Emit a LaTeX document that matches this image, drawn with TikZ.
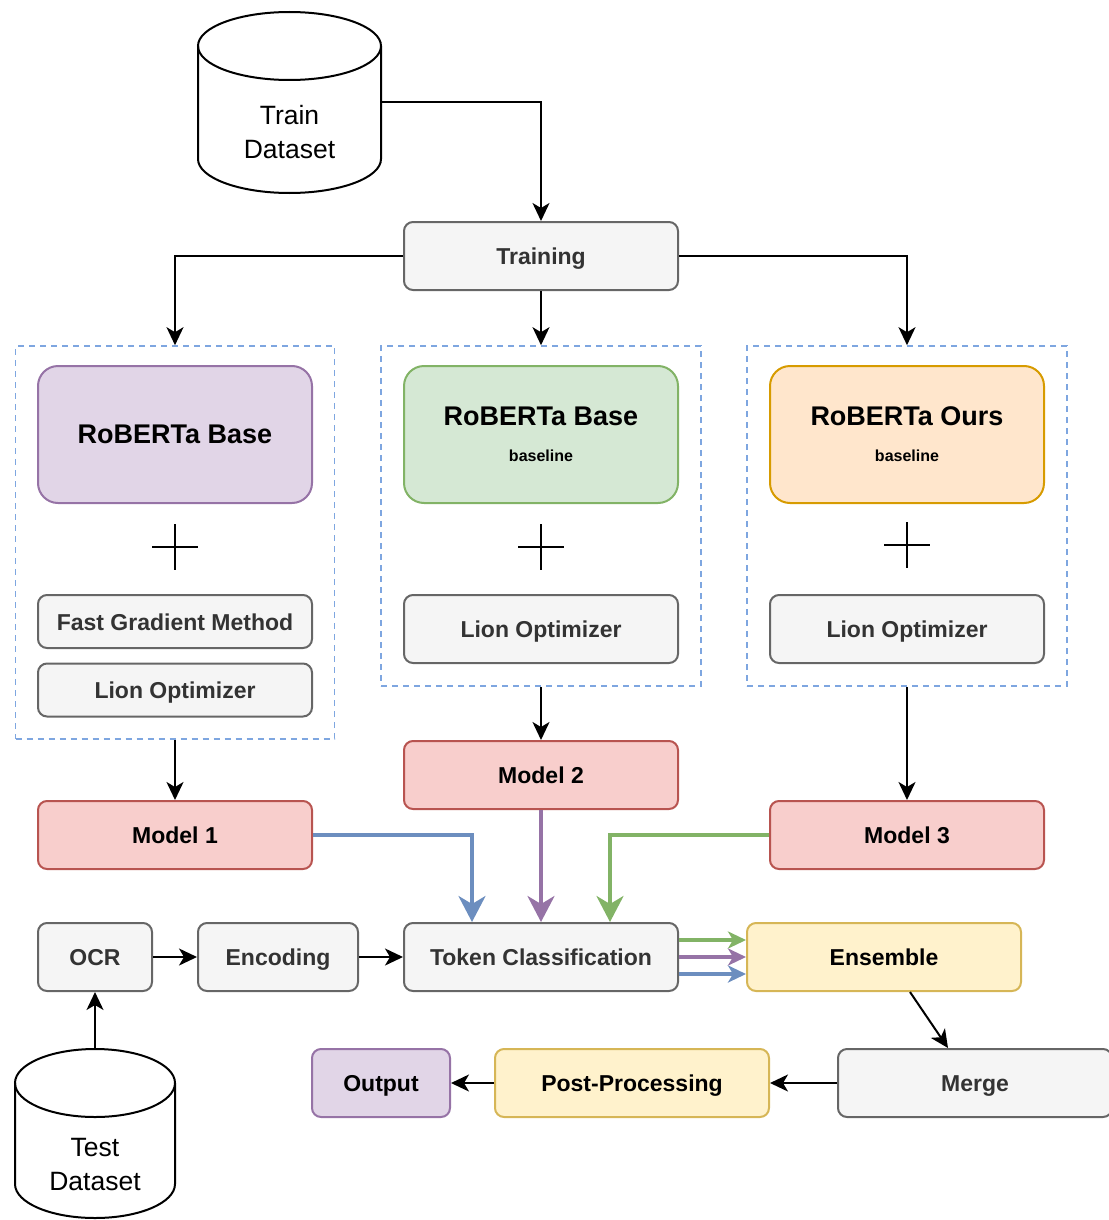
\documentclass[tikz,border=0pt]{standalone}
\usepackage{fontspec}
\setmainfont{Liberation Sans}
\usetikzlibrary{positioning,calc,arrows.meta}

\definecolor{grayfill}{HTML}{F5F5F5}
\definecolor{grayline}{HTML}{666666}
\definecolor{graytext}{HTML}{333333}
\definecolor{purplefill}{HTML}{E1D5E7}
\definecolor{purpleline}{HTML}{9673A6}
\definecolor{greenfill}{HTML}{D5E8D4}
\definecolor{greenline}{HTML}{82B366}
\definecolor{orangefill}{HTML}{FFE6CC}
\definecolor{orangeline}{HTML}{D79B00}
\definecolor{redfill}{HTML}{F8CECC}
\definecolor{redline}{HTML}{B85450}
\definecolor{yellowfill}{HTML}{FFF2CC}
\definecolor{yellowline}{HTML}{D6B656}
\definecolor{blueline}{HTML}{6C8EBF}
\definecolor{dashblue}{HTML}{7EA6E0}

\tikzset{
  box/.style={draw, line width=2pt, rounded corners=9pt, minimum height=68pt,
    minimum width=274pt, text height=17pt, text depth=0pt,
    font=\bfseries\fontsize{23}{27}\selectfont},
  graybox/.style={box, fill=grayfill, draw=grayline, text=graytext},
  redbox/.style={box, fill=redfill, draw=redline},
  yellowbox/.style={box, fill=yellowfill, draw=yellowline},
  bigbox/.style={box, rounded corners=20pt, minimum height=137pt, text height=, text depth=,
    font=\bfseries\fontsize{27}{30}\selectfont, align=center},
  groupbox/.style={draw=dashblue, line width=1.6pt, dash pattern=on 6pt off 5pt},
  arr/.style={line width=2pt, -{Stealth[length=18pt,width=17pt,inset=5pt]}},
  carr/.style={line width=3.5pt, -{Stealth[length=26pt,width=27pt,inset=8pt]}},
  earr/.style={line width=3.5pt, -{Stealth[length=18pt,width=17pt,inset=5pt]}},
  cyl/.style={line width=2pt},
  cyltext/.style={align=center, font=\fontsize{26.5}{34}\selectfont},
  plus/.style={line width=2pt}
}

\newcommand{\smalltag}[1]{{\fontsize{16}{18}\selectfont #1}}

\begin{document}
\begin{tikzpicture}[x=1pt,y=-1pt]

\useasboundingbox (0,0) rectangle (1108,1220);

% datasets
\draw[cyl] (198,46) -- (198,159) arc[start angle=180,end angle=360,x radius=91.5pt,y radius=34pt] -- (381,46);
\draw[cyl] (289.5,46) ellipse [x radius=91.5pt, y radius=34pt];
\node[cyltext] (train) at (289.5,132) {Train\\Dataset};
\coordinate (trainR) at (381,102);

\draw[cyl] (15,1083) -- (15,1184) arc[start angle=180,end angle=360,x radius=80pt,y radius=34pt] -- (175,1083);
\draw[cyl] (95,1083) ellipse [x radius=80pt, y radius=34pt];
\node[cyltext] (test) at (95,1164) {Test\\Dataset};
\coordinate (testT) at (95,1049);

% training
\node[graybox] (training) at (541,256) {Training};

% three branches
\node[groupbox, minimum width=319pt, minimum height=393pt] (grp1) at (175,542.5) {};
\node[groupbox, minimum width=320pt, minimum height=340pt] (grp2) at (541,516) {};
\node[groupbox, minimum width=320pt, minimum height=340pt] (grp3) at (907,516) {};

\node[bigbox, fill=purplefill, draw=purpleline] (base1) at (175,434.5) {RoBERTa Base};
\node[bigbox, fill=greenfill, draw=greenline] (base2) at (541,434.5) {RoBERTa Base\\[6pt]\smalltag{baseline}};
\node[bigbox, fill=orangefill, draw=orangeline] (ours3) at (907,434.5) {RoBERTa Ours\\[6pt]\smalltag{baseline}};

\foreach \px/\py in {175/547, 541/547, 907/545} {
  \draw[plus] (\px-23,\py) -- (\px+23,\py);
  \draw[plus] (\px,\py-23) -- (\px,\py+23);
}

\node[graybox, minimum height=53pt] (fgm1) at (175,621.5) {Fast Gradient Method};
\node[graybox, minimum height=53pt] (lion1) at (175,690) {Lion Optimizer};
\node[graybox] (lion2) at (541,629) {Lion Optimizer};
\node[graybox] (lion3) at (907,629) {Lion Optimizer};

% models
\node[redbox] (model1) at (175,835) {Model 1};
\node[redbox] (model2) at (541,775) {Model 2};
\node[redbox] (model3) at (907,835) {Model 3};

% inference
\node[graybox, minimum width=114pt] (ocr) at (95,957) {OCR};
\node[graybox, minimum width=160pt] (enc) at (278,957) {Encoding};
\node[graybox] (token) at (541,957) {Token Classification};
\node[yellowbox] (ens) at (884,957) {Ensemble};
\node[graybox] (merge) at (975,1083) {Merge};
\node[yellowbox] (post) at (632,1083) {Post-Processing};
\node[box, fill=purplefill, draw=purpleline, minimum width=138pt] (output) at (381,1083) {Output};

% connectors
\draw[arr] (trainR) -| (training.north);
\draw[arr] (training.west) -| (grp1.north);
\draw[arr] (training.south) -- (grp2.north);
\draw[arr] (training.east) -| (grp3.north);

\draw[arr] (grp1.south) -- (model1.north);
\draw[arr] (grp2.south) -- (model2.north);
\draw[arr] (grp3.south) -- (model3.north);

\draw[carr, blueline] (model1.east) -| ($(token.north)+(-69,0)$);
\draw[carr, purpleline] (model2.south) -- (token.north);
\draw[carr, greenline] (model3.west) -| ($(token.north)+(69,0)$);

\draw[arr] (testT) -- (ocr.south);
\draw[arr] (ocr.east) -- (enc.west);
\draw[arr] (enc.east) -- (token.west);

\draw[earr, greenline] ($(token.east)+(0,-17)$) -- ($(ens.west)+(0,-17)$);
\draw[earr, purpleline] (token.east) -- (ens.west);
\draw[earr, blueline] ($(token.east)+(0,17)$) -- ($(ens.west)+(0,17)$);

\draw[arr] ($(ens.south)+(26,0)$) -- ($(merge.north)+(-27,0)$);
\draw[arr] (merge.west) -- (post.east);
\draw[arr] (post.west) -- (output.east);

\end{tikzpicture}
\end{document}
